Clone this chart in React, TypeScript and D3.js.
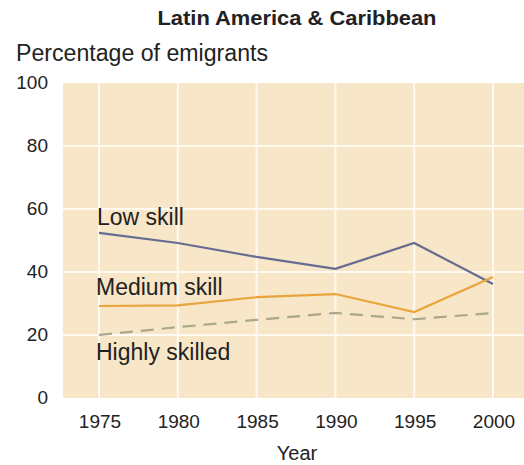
import React from "react";
import * as d3 from "d3";

const years = [1975, 1980, 1985, 1990, 1995, 2000];
const lowSkill = [52.4, 49.2, 44.8, 41, 49.2, 36.2];
const mediumSkill = [29.2, 29.4, 32, 33, 27.3, 38.4];
const highlySkilled = [20, 22.5, 24.8, 27, 25, 27];
const yTicks = [0, 20, 40, 60, 80, 100];
const seriesNames = ["Low skill", "Medium skill", "Highly skilled"];

const W = 524;
const H = 465;
const font = "'Liberation Sans', Arial, sans-serif";

export default function App() {
  const x = d3.scaleLinear().domain([1975, 2000]).range([99, 493]);
  const y = d3.scaleLinear().domain([0, 100]).range([398, 83]);
  const line = d3
    .line<number>()
    .x((_, i) => x(years[i]))
    .y((d) => y(d));

  const series = [
    { name: seriesNames[0], values: lowSkill, color: "#666b92", dash: undefined, lx: 97, ly: 225 },
    { name: seriesNames[1], values: mediumSkill, color: "#e9a53c", dash: undefined, lx: 96, ly: 295 },
    { name: seriesNames[2], values: highlySkilled, color: "#a9a78c", dash: "13,8", lx: 96, ly: 360 },
  ];

  return (
    <svg
      width={W}
      height={H}
      style={{ position: "absolute", left: 0, top: 0, background: "#fff" }}
    >
      <rect x={63} y={y(100)} width={W - 63} height={y(0) - y(100)} fill="#f7e6c7" />
      {yTicks
        .filter((t) => t > 0 && t < 100)
        .map((t) => (
          <line key={"h" + t} x1={63} x2={W} y1={y(t)} y2={y(t)} stroke="#fffaf0" strokeWidth={2} />
        ))}
      {years.map((yr) => (
        <line key={"v" + yr} x1={x(yr)} x2={x(yr)} y1={y(100)} y2={y(0)} stroke="#fffaf0" strokeWidth={2} />
      ))}
      {series.map((s) => (
        <path
          key={s.name}
          d={line(s.values) || ""}
          fill="none"
          stroke={s.color}
          strokeWidth={2.2}
          strokeDasharray={s.dash}
        />
      ))}
      {series.map((s) => (
        <text key={"l" + s.name} x={s.lx} y={s.ly} fontFamily={font} fontSize={23} fill="#222">
          {s.name}
        </text>
      ))}
      {yTicks.map((t) => (
        <text
          key={"yt" + t}
          x={48}
          y={y(t) + 6}
          textAnchor="end"
          fontFamily={font}
          fontSize={19}
          fill="#222"
        >
          {t}
        </text>
      ))}
      {years.map((yr) => (
        <text
          key={"xt" + yr}
          x={x(yr) + 1}
          y={428}
          textAnchor="middle"
          fontFamily={font}
          fontSize={19}
          fill="#222"
        >
          {yr}
        </text>
      ))}
      <text x={297} y={460} textAnchor="middle" fontFamily={font} fontSize={20} fill="#222">
        Year
      </text>
      <text x={16} y={61} fontFamily={font} fontSize={23} fill="#222" textLength={252} lengthAdjust="spacingAndGlyphs">
        Percentage of emigrants
      </text>
      <text x={297} y={25} textAnchor="middle" fontFamily={font} fontSize={21} fontWeight="bold" fill="#222" textLength={279} lengthAdjust="spacingAndGlyphs">
        Latin America &amp; Caribbean
      </text>
    </svg>
  );
}
